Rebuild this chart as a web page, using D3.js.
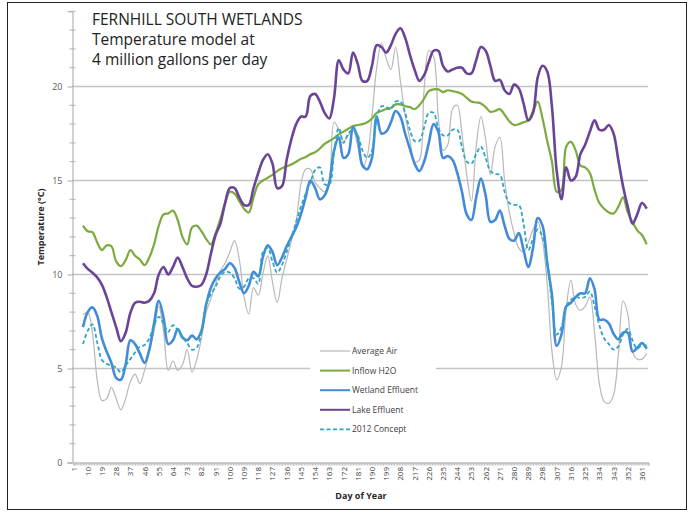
<!DOCTYPE html>
<html>
<head>
<meta charset="utf-8">
<script src="https://cdn.jsdelivr.net/npm/d3@7"></script>
<style>
  body { margin: 0; background: #fff; }
  text { font-family: "Open Sans", "DejaVu Sans", sans-serif; }
</style>
</head>
<body>
<div id="chart"></div>
<script>
// day of year for each reading (every 3rd day, data begins on day 7)
var days = d3.range(7, 365, 3);

var xTickLabels = [1,10,19,28,37,46,55,64,73,82,91,100,109,118,127,136,145,154,163,172,181,
                   190,199,208,217,226,235,244,253,262,271,280,289,298,307,316,325,334,343,352,361];
var yTickLabels = [0, 5, 10, 15, 20];

var averageAir = [
  7.85,8.0,6.9,4.4,3.3,3.4,4.0,3.4,2.8,3.4,
  4.3,4.7,4.2,4.9,5.9,7.0,8.3,7.0,4.9,5.4,
  4.9,5.2,6.0,4.8,5.45,6.6,8.0,8.7,9.5,10.2,
  10.6,11.2,11.8,10.8,8.8,7.9,9.3,8.9,10.06,11.0,
  9.6,8.5,9.8,10.8,11.8,12.8,14.8,15.6,15.6,14.9,
  14.6,14.4,15.0,18.1,17.7,17.1,17.4,17.7,16.8,15.7,
  16.3,18.4,21.0,22.3,21.5,20.9,22.1,20.3,18.5,17.2,
  16.0,16.1,19.8,21.9,21.6,18.4,16.6,16.9,18.8,19.0,
  17.5,15.3,13.9,16.8,18.4,17.2,15.3,16.8,17.3,15.0,
  13.3,12.2,11.4,11.2,11.7,12.4,12.8,11.8,9.5,5.9,
  4.4,5.1,8.2,9.7,8.4,8.1,8.3,8.8,6.9,4.2,
  3.25,3.15,3.6,5.7,8.6,7.9,5.9,5.5,5.5,5.8
];

var inflowH2O = [
  12.6,12.3,12.25,11.7,11.3,11.55,11.5,10.7,10.45,10.75,
  11.3,11.0,10.8,10.5,10.9,11.6,12.6,13.2,13.25,13.4,
  12.9,12.0,11.6,12.5,12.6,12.3,11.9,11.6,12.2,12.95,
  13.8,14.4,14.3,13.9,13.5,13.3,14.1,14.8,15.0,15.15,
  15.3,15.5,15.65,15.75,15.85,16.0,16.15,16.25,16.4,16.5,
  16.7,16.95,17.1,17.25,17.45,17.6,17.75,17.9,17.95,18.0,
  18.1,18.3,18.6,18.7,18.8,18.85,19.05,19.05,18.95,18.9,
  18.8,19.0,19.35,19.75,19.85,19.85,19.7,19.8,19.75,19.7,
  19.6,19.4,19.2,19.15,19.1,18.9,18.65,18.7,18.8,18.5,
  18.15,17.95,18.0,18.1,18.2,18.7,19.2,18.3,17.1,16.0,
  14.4,14.5,16.8,17.05,16.6,15.8,15.7,15.4,14.5,13.8,
  13.5,13.3,13.25,13.6,14.1,13.3,12.8,12.35,12.1,11.6
];

var wetlandEffluent = [
  7.2,8.0,8.25,7.8,6.6,5.9,5.3,4.5,4.4,5.2,
  6.5,6.3,5.8,5.3,6.0,7.4,8.6,7.7,6.3,6.5,
  7.1,6.65,6.5,6.75,6.55,7.0,8.4,9.3,9.8,10.1,
  10.3,10.6,10.35,9.6,9.0,9.4,10.15,9.9,10.95,11.55,
  11.2,10.5,10.9,11.5,12.0,12.5,13.2,14.1,15.0,14.6,
  14.0,14.2,14.9,16.6,17.3,16.2,16.4,17.85,17.25,15.8,
  15.6,16.2,18.4,17.5,17.6,18.1,18.7,18.4,17.5,16.7,
  15.9,15.5,16.0,17.0,18.0,17.6,16.2,16.3,16.1,15.4,
  14.4,13.2,12.9,14.1,15.1,14.2,12.8,12.9,13.4,12.6,
  11.9,11.8,12.2,11.3,10.4,11.4,13.0,12.6,10.6,8.9,
  6.2,6.8,8.3,8.5,8.8,9.0,9.0,9.8,9.2,7.6,
  7.6,7.4,6.85,6.55,6.9,6.9,5.9,6.1,6.35,6.05
];

var lakeEffluent = [
  10.6,10.3,10.1,9.85,9.45,8.8,8.0,7.2,6.45,6.9,
  7.95,8.5,8.55,8.5,8.6,9.0,10.0,10.4,10.0,10.4,
  10.9,10.4,9.8,9.4,9.35,9.45,10.0,11.1,12.1,12.7,
  13.8,14.6,14.6,14.1,13.7,13.7,14.6,15.4,16.1,16.4,
  15.9,14.6,14.7,16.1,17.2,18.0,18.4,18.4,19.5,19.6,
  19.2,18.6,18.3,19.4,21.4,20.9,20.7,21.8,21.2,20.3,
  20.3,21.1,22.2,22.1,21.8,22.2,22.8,23.1,22.6,21.7,
  20.9,20.3,20.6,21.3,21.9,21.9,21.1,20.8,20.9,21.0,
  21.0,20.7,20.7,21.4,22.1,21.9,21.1,20.3,20.35,19.8,
  19.6,20.1,19.9,19.1,18.2,18.6,20.5,21.1,20.8,18.9,
  15.5,14.0,15.7,15.0,15.2,16.4,16.9,17.6,18.2,17.7,
  17.7,17.95,17.5,16.1,14.7,13.6,12.7,13.2,13.8,13.5
];

var concept2012 = [
  6.3,7.0,7.35,6.4,5.45,5.25,5.15,5.05,4.8,5.15,
  5.5,5.85,6.15,6.25,6.6,7.3,7.75,7.4,6.95,7.3,
  7.05,6.7,6.35,6.0,6.1,6.9,8.4,8.95,9.35,9.9,
  10.15,10.1,9.8,9.25,9.35,9.8,9.8,9.5,11.2,11.4,
  10.7,10.1,10.5,11.2,12.0,12.8,13.6,14.3,14.9,15.55,
  15.7,14.8,14.8,16.5,17.8,17.0,17.5,17.7,17.4,16.6,
  16.2,16.6,18.3,18.95,18.9,18.8,19.2,19.2,18.6,17.7,
  17.1,17.1,17.8,18.6,18.6,17.8,17.4,17.4,17.7,17.7,
  16.8,16.0,15.9,16.4,16.8,16.2,15.5,15.35,15.3,14.4,
  13.8,13.7,13.7,12.7,11.3,11.9,12.4,12.0,10.7,8.5,
  6.8,7.2,8.3,8.65,8.8,8.75,8.8,9.1,8.3,7.3,
  6.6,6.3,6.0,6.16,6.8,7.1,6.5,6.05,6.25,6.2
];

var seriesNames = ["Average Air", "Inflow H2O", "Wetland Effluent", "Lake Effluent", "2012 Concept"];
var seriesColors = ["#b8b8b8", "#7bab3e", "#438bd8", "#6a4496", "#2ca6c4"];

var width = 694, height = 512;

var svg = d3.select("#chart")
            .append("svg")
            .attr("width", width)
            .attr("height", height);

svg.append("rect")
   .attr("width", width).attr("height", height)
   .attr("fill", "#fff");

// outer frame
svg.append("rect")
   .attr("x", 7.5).attr("y", 2.5)
   .attr("width", 679).attr("height", 507)
   .attr("fill", "none")
   .attr("stroke", "#222")
   .attr("stroke-width", 1);

var x = d3.scaleLinear().domain([1, 365]).range([73.5, 648.3]);
var y = d3.scaleLinear().domain([0, 24]).range([462.5, 11.3]);

// gridlines
svg.selectAll(".grid")
   .data(yTickLabels.filter(d => d > 0))
   .enter()
   .append("line")
   .attr("x1", 72).attr("x2", 648)
   .attr("y1", d => y(d)).attr("y2", d => y(d))
   .attr("stroke", "#c4c4c4")
   .attr("stroke-width", 1.5);

// y axis
var yAxis = d3.axisLeft(y)
    .tickValues(yTickLabels)
    .tickSize(5)
    .tickPadding(5);

var gy = svg.append("g")
   .attr("transform", "translate(72.5,0)")
   .call(yAxis);
gy.select(".domain").attr("stroke", "#a6a6a6");
gy.selectAll(".tick line").attr("stroke", "#a6a6a6");
gy.selectAll(".tick text")
  .attr("fill", "#595959")
  .style("font-size", "9px")
  .style("font-family", "'Open Sans', sans-serif");

// minor y ticks
svg.selectAll(".yminor")
   .data(d3.range(1, 25).filter(d => d % 5 !== 0))
   .enter()
   .append("line")
   .attr("x1", 69.5).attr("x2", 75.5)
   .attr("y1", d => y(d)).attr("y2", d => y(d))
   .attr("stroke", "#b0b0b0");

// x axis: a tick for each day, labels every 9 days
var gx = svg.append("g")
   .attr("transform", "translate(0,462.5)")
   .call(d3.axisBottom(x).tickValues(d3.range(1, 366)).tickSize(3).tickFormat(""));
gx.select(".domain").attr("stroke", "#a6a6a6");
gx.selectAll(".tick line").attr("stroke", "#bdbdbd");

svg.selectAll(".xlabel")
   .data(xTickLabels)
   .enter()
   .append("text")
   .attr("transform", d => "translate(" + (x(d) + 3) + ",467) rotate(-90)")
   .attr("text-anchor", "end")
   .attr("fill", "#404040")
   .style("font-size", "8px")
   .text(d => d);

// axis titles
svg.append("text")
   .attr("x", 361).attr("y", 499)
   .attr("text-anchor", "middle")
   .attr("fill", "#262626")
   .style("font-size", "9px")
   .style("font-weight", "bold")
   .text("Day of Year");

svg.append("text")
   .attr("transform", "translate(44,227) rotate(-90)")
   .attr("text-anchor", "middle")
   .attr("fill", "#262626")
   .style("font-size", "9px")
   .style("font-weight", "bold")
   .text("Temperature (°C)");

// title block
var titleLines = ["FERNHILL SOUTH WETLANDS", "Temperature model at", "4 million gallons per day"];
svg.selectAll(".title")
   .data(titleLines)
   .enter()
   .append("text")
   .attr("x", 92)
   .attr("y", (d, i) => 25 + i * 20)
   .attr("fill", "#222")
   .style("font-size", "15.5px")
   .text(d => d);

// series
var seriesValues = [averageAir, inflowH2O, wetlandEffluent, lakeEffluent, concept2012];
var widths = [1.2, 2.2, 2.6, 2.6, 1.8];
var dashes = [null, null, null, null, "4,2.5"];

var line = d3.line()
    .x((d, i) => x(days[i]))
    .y(d => y(d))
    .curve(d3.curveCatmullRom.alpha(0.5));

svg.selectAll(".series")
   .data(seriesValues)
   .enter()
   .append("path")
   .attr("d", line)
   .attr("fill", "none")
   .attr("stroke", (d, i) => seriesColors[i])
   .attr("stroke-width", (d, i) => widths[i])
   .attr("stroke-dasharray", (d, i) => dashes[i])
   .attr("stroke-linejoin", "round");

// legend
var legend = svg.append("g");
legend.append("rect")
   .attr("x", 310).attr("y", 340)
   .attr("width", 126).attr("height", 98)
   .attr("fill", "#fff");

var items = legend.selectAll(".item")
   .data(seriesNames)
   .enter()
   .append("g")
   .attr("transform", (d, i) => "translate(0," + (351 + i * 19.6) + ")");

items.append("line")
   .attr("x1", 320).attr("x2", 350)
   .attr("stroke", (d, i) => seriesColors[i])
   .attr("stroke-width", (d, i) => Math.min(widths[i], 2))
   .attr("stroke-dasharray", (d, i) => dashes[i]);

items.append("text")
   .attr("x", 352).attr("y", 3)
   .attr("fill", "#404040")
   .style("font-size", "8.5px")
   .text(d => d);
</script>
</body>
</html>
